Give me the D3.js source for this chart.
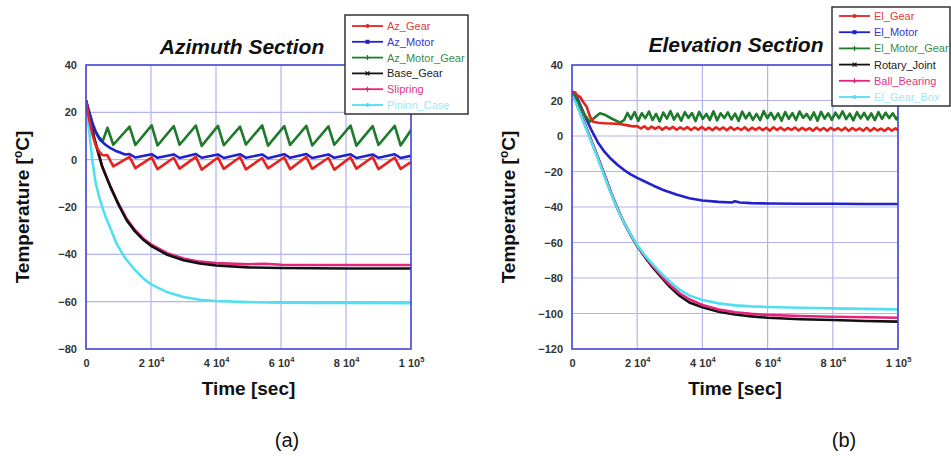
<!DOCTYPE html>
<html><head><meta charset="utf-8">
<script src="https://cdn.jsdelivr.net/npm/d3@7"></script>
<style>
body{margin:0;background:#fff}
svg{display:block}
text{font-family:"Liberation Sans",Arial,sans-serif}
</style>
</head><body>
<svg id="c" width="951" height="456"></svg>
<script>
// ---------------- DATA (time in 10^3 s, temperature in °C) ----------------
const azNames = ["Az_Gear","Az_Motor","Az_Motor_Gear","Base_Gear","Slipring","Pinion_Case"];
const elNames = ["El_Gear","El_Motor","El_Motor_Gear","Rotary_Joint","Ball_Bearing","El_Gear_Box"];

const azGear = [[0,25],[1,17],[2,10.5],[3,6],[4,3.5],[5,2],[6.6,1.8],[8.4,-2.8],[13.4,1.2],[15.2,-3.6],[20.2,1.0],[22.0,-4.0],[27.0,0.8],[28.8,-3.8],[33.8,1.2],[35.6,-4.2],[40.6,0.9],[42.4,-3.9],[47.4,1.1],[49.2,-4.1],[54.2,0.7],[56.0,-3.7],[61.0,1.0],[62.8,-4.0],[67.8,1.2],[69.6,-3.9],[74.6,0.8],[76.4,-4.2],[81.4,1.0],[83.2,-3.8],[88.2,1.1],[90.0,-4.0],[95.0,0.9],[96.8,-3.9],[100,-1.0]];
const azMotor = [[0,25],[1,20],[2,15],[3,11.5],[4.3,8.4],[6,6.3],[7.4,5],[9,3.8],[10.5,3],[12,2.2],[13.4,2.4],[15.2,0.9],[20.2,2.3],[22.0,0.8],[27.0,2.2],[28.8,0.7],[33.8,2.4],[35.6,0.8],[40.6,2.2],[42.4,0.7],[47.4,2.3],[49.2,0.8],[54.2,2.2],[56.0,0.6],[61.0,2.3],[62.8,0.8],[67.8,2.4],[69.6,0.7],[74.6,2.2],[76.4,0.8],[81.4,2.3],[83.2,0.7],[88.2,2.2],[90.0,0.8],[95.0,2.3],[96.8,0.7],[100,1.6]];
const azMotorGear = [[0,25],[1,20],[2,15.5],[3,12],[4,9.5],[5.2,8],[6.6,13.5],[8.4,6.3],[13.4,14.0],[15.2,6.2],[20.2,14.5],[22.0,6.0],[27.0,14.2],[28.8,6.3],[33.8,14.4],[35.6,5.8],[40.6,14.3],[42.4,6.1],[47.4,14.0],[49.2,6.4],[54.2,14.5],[56.0,5.9],[61.0,14.2],[62.8,6.2],[67.8,14.3],[69.6,6.0],[74.6,14.1],[76.4,6.3],[81.4,14.4],[83.2,5.9],[88.2,14.2],[90.0,6.2],[95.0,14.3],[96.8,6.0],[100,12.5]];
const baseGear = [[0,25],[1,18.5],[2.5,9.3],[5,-2.9],[7.5,-11.5],[10,-19],[12.5,-25.6],[15,-30.2],[17.5,-33.7],[20,-36.4],[25,-40.2],[30,-42.5],[35,-43.9],[40,-44.7],[50,-45.5],[60,-45.8],[70,-45.9],[80,-46],[100,-46]];
const slipring = [[0,25],[1,18],[2.5,8.8],[5,-3.2],[7.5,-11.2],[10,-18.6],[12.5,-25],[15,-29.6],[17.5,-33.2],[20,-35.8],[25,-39.5],[30,-41.8],[35,-43.1],[40,-43.7],[50,-44.2],[55,-44.0],[60,-44.4],[70,-44.5],[80,-44.5],[100,-44.5]];
const pinionCase = [[0,25],[1,12],[2,-1],[3,-10],[4,-15.5],[5,-20],[6,-24],[7.5,-29],[9.4,-35.5],[12,-41.5],[15,-46.5],[17.5,-50],[20,-52.7],[25,-56],[30,-58],[35,-59.2],[40,-59.7],[50,-60.2],[60,-60.4],[70,-60.5],[80,-60.5],[100,-60.6]];

const elGearStart = [[0,25],[1,24.5],[1.5,23],[2.5,22],[3.5,19],[4.5,16.5],[5.5,11],[6.5,8],[8,7.5],[10,7.2],[12,7.0],[14.7,6.8],[17,6.0],[18.9,5.4]];
const elGearOsc = [5.6,4.2,5.5,3.8,5.3,4.0,5.2,3.6,5.0,3.9,
5.1,3.5,4.9,3.7,5.0,3.4,4.8,3.6,5.1,3.5,
4.7,3.3,4.9,3.6,4.8,3.2,5.0,3.5,4.6,3.4,
4.9,3.1,4.7,3.5,4.8,3.3,4.6,3.0,4.9,3.4,
4.7,3.2,4.5,3.4,4.8,3.1,4.6,3.3,4.4,3.0,
4.7,3.2,4.5,2.9,4.6,3.3,4.4,3.1,4.7,2.9,
4.5,3.2,4.3,3.0,4.6,2.8,4.4,3.1,4.2,2.9,
4.5,3.0,4.3];
const elGearOscStart = 20, elGearEnd = 3.3;

const elMotorGearStart = [[0,25],[1,22.5],[2,19],[3,15],[4,11.5],[5.5,8],[7,10.5],[8.6,12.8],[10,12],[12,10],[14.7,7.5],[16,9]];
const elMotorGearOsc = [13,9.5,13.5,8.5,12.8,10,13.8,9,12.5,8.2,
13.2,9.8,14,9.2,12.6,8.6,13.4,10.2,12.9,8.4,
13.6,9.6,12.4,9,13.9,8.8,12.8,10.1,13.3,9.3,
12.6,8.5,13.7,9.9,13,9.1,12.5,8.9,14,10,
13.1,9.4,12.7,8.7,13.5,9.7,12.9,9,13.8,10.2,
12.4,9.2,13.3,8.6,13.6,9.8,12.8,9.1,13.2,10,
13.9,9.5,12.6,8.8,13.4,9.9,13,9.3,12.7,8.9,
13.5,9.6,13.1,10.1,12.8,9.4];
const elMotorGearOscStart = 17, elMotorGearEnd = 11;
const elOscStep = 1.1;

const elMotor = [[0,25],[1.5,22],[3,15.5],[4.5,9],[6,3.2],[8,-3.8],[10,-9],[12,-13],[14,-16.3],[16,-19.2],[18,-21.6],[20,-23.6],[22.5,-25.8],[25,-28],[28,-30.4],[32,-33],[36,-35.1],[40,-36.3],[45,-37.1],[49,-37.5],[50,-36.8],[51.5,-37.5],[55,-37.8],[60,-38],[70,-38.2],[80,-38.2],[90,-38.3],[100,-38.3]];
const rotaryJoint = [[0,25],[2,15.7],[4,6.4],[6,-2.9],[8,-12.2],[10,-22],[12,-32],[14,-41],[16,-49],[18,-55.8],[20,-62],[22.5,-68.5],[25,-74.5],[27.5,-79.8],[30,-85],[33,-90],[36,-93.8],[40,-96.5],[45,-99],[50,-100.6],[55,-101.6],[60,-102.4],[70,-103.2],[80,-103.7],[90,-104.2],[100,-104.6]];
const ballBearing = [[0,25],[2,15.5],[4,6.2],[6,-3],[8,-12.4],[10,-22.2],[12,-32.2],[14,-41.2],[16,-49],[18,-55.6],[20,-61.8],[22.5,-68],[25,-73.8],[27.5,-79],[30,-83.8],[33,-88.6],[36,-92],[40,-95.2],[45,-97.8],[50,-99.3],[55,-100.2],[60,-100.8],[70,-101.4],[80,-101.8],[90,-102.1],[100,-102.4]];
const elGearBox = [[0,25],[2,15],[4,5.6],[6,-3.5],[8,-13],[10,-22.8],[12,-32.6],[14,-41.4],[16,-49],[18,-55.5],[20,-61.5],[22.5,-67.5],[25,-72.8],[27.5,-77.6],[30,-82],[33,-86.6],[36,-89.8],[40,-92.4],[45,-94.3],[50,-95.4],[55,-96],[60,-96.3],[70,-96.8],[80,-97.1],[90,-97.4],[100,-97.7]];

const xTickValues = [0,20,40,60,80,100];
const xTickMant = ["0","2","4","6","8","1"];
const xTickExp = ["","4","4","4","4","5"];
const azYTicks = [40,20,0,-20,-40,-60,-80];
const elYTicks = [40,20,0,-20,-40,-60,-80,-100,-120];

// ---------------- helpers ----------------
function withOsc(start, osc, t0, step, endVal){
  const pts = start.slice();
  osc.forEach((v,i)=>pts.push([t0+i*step, v]));
  pts.push([100,endVal]);
  return pts;
}
const elGear = withOsc(elGearStart, elGearOsc, elGearOscStart, elOscStep, elGearEnd);
const elMotorGear = withOsc(elMotorGearStart, elMotorGearOsc, elMotorGearOscStart, elOscStep, elMotorGearEnd);

const C = {red:"#e5231f", blue:"#2222cc", green:"#1f7a2c", black:"#111111", mag:"#e2247c", cyan:"#52e0f0"};
const TXT = {red:"#e23c3c", blue:"#3737d2", green:"#3d8a4c", black:"#222", mag:"#e2358a", cyan:"#9ae9f4"};
const markers = ["circle","square","plus","cross","plus","circle"];
const colKeys = ["red","blue","green","black","mag","cyan"];

const svg = d3.select("#c");

function drawPanel(cfg){
  const x = d3.scaleLinear().domain([0,100]).range([cfg.x0,cfg.x1]);
  const y = d3.scaleLinear().domain(cfg.ydom).range([cfg.y1,cfg.y0]);
  const g = svg.append("g");
  // grid
  g.append("g").selectAll("line.v").data(xTickValues).join("line")
    .attr("x1",d=>x(d)).attr("x2",d=>x(d)).attr("y1",cfg.y0).attr("y2",cfg.y1)
    .attr("stroke","#b3b3ef").attr("stroke-width",1.2);
  g.append("g").selectAll("line.h").data(cfg.yticks).join("line")
    .attr("y1",d=>y(d)).attr("y2",d=>y(d)).attr("x1",cfg.x0).attr("x2",cfg.x1)
    .attr("stroke","#b3b3ef").attr("stroke-width",1.2);
  // y axis labels via d3 axis
  const ya = g.append("g").attr("transform",`translate(${cfg.x0},0)`)
    .call(d3.axisLeft(y).tickValues(cfg.yticks).tickSize(0).tickPadding(9).tickFormat(d3.format("d")));
  ya.select(".domain").remove();
  ya.selectAll("text").attr("font-size",11).attr("font-weight","bold").attr("fill","#333")
    .attr("font-family","'Liberation Sans',Arial,sans-serif");
  // x axis labels
  const xa = g.append("g").attr("transform",`translate(0,${cfg.y1})`)
    .call(d3.axisBottom(x).tickValues(xTickValues).tickSize(0).tickPadding(10).tickFormat(""));
  xa.select(".domain").remove();
  xa.selectAll(".tick text").each(function(d,i){
    const t = d3.select(this).attr("font-size",11).attr("font-weight","bold").attr("fill","#333")
      .attr("font-family","'Liberation Sans',Arial,sans-serif");
    t.append("tspan").text(xTickMant[i]);
    if(xTickExp[i]){
      t.append("tspan").text(" 10");
      t.append("tspan").attr("dy",-5).attr("font-size",7.5).text(xTickExp[i]);
    }
  });
  // clip
  const id = "clip"+cfg.id;
  svg.append("clipPath").attr("id",id).append("rect")
    .attr("x",cfg.x0).attr("y",cfg.y0).attr("width",cfg.x1-cfg.x0).attr("height",cfg.y1-cfg.y0);
  const line = d3.line().x(d=>x(d[0])).y(d=>y(d[1]));
  const lg = g.append("g").attr("clip-path",`url(#${id})`);
  cfg.order.forEach(i=>{
    lg.append("path").datum(cfg.series[i]).attr("d",line)
      .attr("fill","none").attr("stroke",C[colKeys[i]]).attr("stroke-width",2.6)
      .attr("stroke-linejoin","round");
  });
  // border
  g.append("rect").attr("x",cfg.x0).attr("y",cfg.y0).attr("width",cfg.x1-cfg.x0).attr("height",cfg.y1-cfg.y0)
    .attr("fill","none").attr("stroke","#4b4bd6").attr("stroke-width",1.6);
  // title
  svg.append("text").attr("x",cfg.titleX).attr("y",cfg.titleY).attr("text-anchor","middle")
    .attr("font-size",21).attr("font-weight","bold").attr("font-style","italic").attr("fill","#111")
    .text(cfg.title);
  // y label
  const yl = svg.append("text").attr("transform",`translate(${cfg.ylabX},${(cfg.y0+cfg.y1)/2}) rotate(-90)`)
    .attr("text-anchor","middle").attr("font-size",19).attr("font-weight","bold").attr("fill","#111");
  yl.append("tspan").text("Temperature [");
  yl.append("tspan").attr("dy",-7).attr("font-size",12).text("o");
  yl.append("tspan").attr("dy",7).text("C]");
  // x label
  svg.append("text").attr("x",(cfg.x0+cfg.x1)/2).attr("y",395).attr("text-anchor","middle")
    .attr("font-size",19).attr("font-weight","bold").attr("fill","#111").text("Time [sec]");
  // panel letter
  svg.append("text").attr("x",cfg.letterX).attr("y",447).attr("text-anchor","middle")
    .attr("font-size",20).attr("fill","#111").text(cfg.letter);
  // legend
  const L = cfg.leg;
  const lgd = svg.append("g");
  lgd.append("rect").attr("x",L.x).attr("y",L.y).attr("width",L.w).attr("height",L.h)
    .attr("fill","#fff").attr("stroke","#333").attr("stroke-width",1.5);
  cfg.names.forEach((n,i)=>{
    const yy = L.y + L.first + i*L.dy;
    const col = C[colKeys[i]];
    lgd.append("line").attr("x1",L.x+7).attr("x2",L.x+38).attr("y1",yy).attr("y2",yy)
      .attr("stroke",col).attr("stroke-width",1.8);
    const mx = L.x+22.5;
    const m = markers[i];
    if(m==="circle") lgd.append("circle").attr("cx",mx).attr("cy",yy).attr("r",2).attr("fill",col);
    else if(m==="square") lgd.append("rect").attr("x",mx-2).attr("y",yy-2).attr("width",4).attr("height",4).attr("fill",col);
    else if(m==="plus") lgd.append("path").attr("d",`M${mx-2.5},${yy}H${mx+2.5}M${mx},${yy-2.5}V${yy+2.5}`).attr("stroke",col).attr("stroke-width",1.2);
    else lgd.append("path").attr("d",`M${mx-2},${yy-2}L${mx+2},${yy+2}M${mx-2},${yy+2}L${mx+2},${yy-2}`).attr("stroke",col).attr("stroke-width",1.2);
    lgd.append("text").attr("x",L.x+42).attr("y",yy+4).attr("font-size",11).attr("fill",TXT[colKeys[i]]).text(n);
  });
}

drawPanel({id:"a", x0:86, x1:411, y0:65, y1:349, ydom:[-80,40], yticks:azYTicks,
  series:[azGear,azMotor,azMotorGear,baseGear,slipring,pinionCase], names:azNames,
  order:[5,4,3,2,1,0], title:"Azimuth Section", titleX:242, titleY:54, ylabX:29, letterX:287, letter:"(a)",
  leg:{x:345,y:15,w:123,h:99,first:11,dy:15.8}});
drawPanel({id:"b", x0:572, x1:898, y0:65, y1:349, ydom:[-120,40], yticks:elYTicks,
  series:[elGear,elMotor,elMotorGear,rotaryJoint,ballBearing,elGearBox], names:elNames,
  order:[3,4,5,1,2,0], title:"Elevation Section", titleX:736, titleY:52, ylabX:515, letterX:844, letter:"(b)",
  leg:{x:832,y:7,w:118,h:99,first:9,dy:16.2}});
</script>
</body></html>
